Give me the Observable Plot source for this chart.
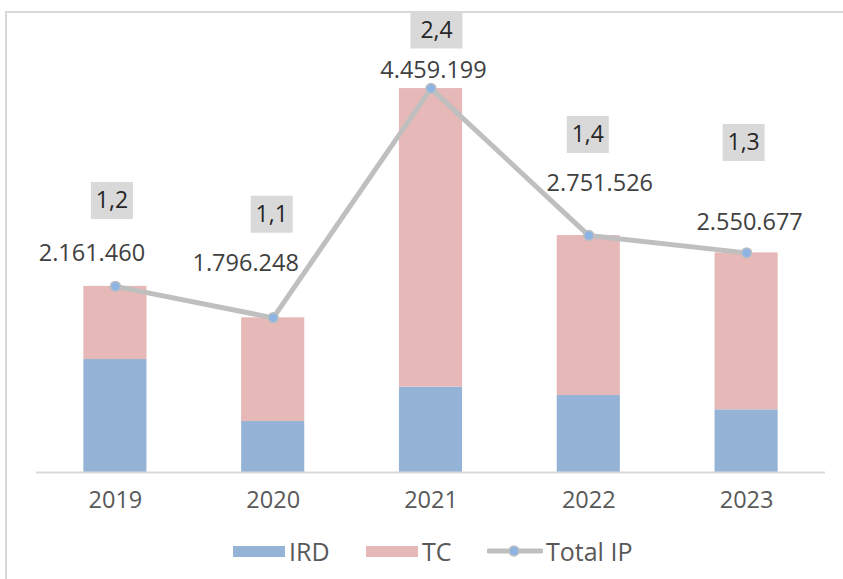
<!DOCTYPE html>
<html>
<head>
<meta charset="utf-8">
<script src="https://cdn.jsdelivr.net/npm/d3@7"></script>
<script src="https://cdn.jsdelivr.net/npm/@observablehq/plot@0.6"></script>
<style>
  html, body { margin: 0; padding: 0; background: #fff; }
  #wrap { position: relative; width: 843px; height: 579px; overflow: hidden; font-family: "Open Sans", Lato, sans-serif; }
  #frame { position: absolute; left: 5px; top: 11px; width: 900px; height: 700px; border-left: 2px solid #d9d9d9; border-top: 2px solid #d9d9d9; pointer-events: none; }
  #chart { position: absolute; left: 0; top: 0; }
  #legend { position: absolute; left: 0; top: 520px; width: 843px; height: 59px; }
  .item { position: absolute; top: 0; height: 62px; display: flex; align-items: center; font-size: 25px; color: #595959; }
  .sw { display: inline-block; width: 52px; height: 11px; margin-right: 4px; }
</style>
</head>
<body>
<div id="wrap">
  <div id="chart"></div>
  <div id="frame"></div>
  <div id="legend"></div>
</div>
<script>
// ---- data ----
const years = ["2019", "2020", "2021", "2022", "2023"];
const series = ["IRD", "TC"];
const ird = [1312000, 592000, 991000, 894000, 728000];
const tc = [849460, 1204248, 3468199, 1857526, 1822677];
const totalIP = [2161460, 1796248, 4459199, 2751526, 2550677];
const ratio = ["1,2", "1,1", "2,4", "1,4", "1,3"];
const legendNames = ["IRD", "TC", "Total IP"];

// ---- styles / layout ----
const colors = { IRD: "#95b3d7", TC: "#e6b8b7" };
const lineColor = "#bfbfbf";
const dotColor = "#8db4e2";
const FONT = "'Open Sans', Lato, sans-serif";
// label offsets (pixels) relative to the Total IP point
const valueOffsets = [[-23.5, -32.5], [-27.5, -54.5], [2.5, -18], [11, -52], [3, -30.5]];
const ratioOffsets = [[-3.5, -86], [-1.5, -103.5], [5.5, -58], [-1, -101], [-3, -110.5]];
const boxSizes = [[42, 37], [42, 37], [52, 36], [42, 37], [42, 37]];

const fmt = d3.formatLocale({ decimal: ",", thousands: ".", grouping: [3], currency: ["", ""] }).format(",d");

const stacked = [];
years.forEach((y, i) => {
  stacked.push({ year: y, series: "IRD", value: ird[i] });
  stacked.push({ year: y, series: "TC", value: tc[i] });
});
const totals = years.map((y, i) => ({ year: y, total: totalIP[i], label: fmt(totalIP[i]), ratio: ratio[i] }));

function rectSymbol(w, h) {
  return { draw(ctx) { ctx.moveTo(-w / 2, -h / 2); ctx.lineTo(w / 2, -h / 2); ctx.lineTo(w / 2, h / 2); ctx.lineTo(-w / 2, h / 2); ctx.closePath(); } };
}

const labelMarks = [];
totals.forEach((d, i) => {
  labelMarks.push(Plot.dot([d], { x: "year", y: "total", symbol: rectSymbol(...boxSizes[i]), r: 10, fill: "#d9d9d9", stroke: null, dx: ratioOffsets[i][0], dy: ratioOffsets[i][1] }));
  labelMarks.push(Plot.text([d], { x: "year", y: "total", text: "ratio", dx: ratioOffsets[i][0], dy: ratioOffsets[i][1], fontSize: 23, fill: "#262626", lineAnchor: "middle" }));
  labelMarks.push(Plot.text([d], { x: "year", y: "total", text: "label", dx: valueOffsets[i][0], dy: valueOffsets[i][1], fontSize: 23.5, fill: "#404040", lineAnchor: "middle" }));
});

const chart = Plot.plot({
  width: 843,
  height: 520,
  marginLeft: 36,
  marginRight: 18,
  marginTop: 41.5,
  marginBottom: 48,
  style: { fontFamily: FONT, fontSize: "23px", background: "transparent", overflow: "visible" },
  x: { type: "band", domain: years, paddingInner: 0.6, paddingOuter: 0.3, round: false, label: null },
  y: { domain: [0, 5000000], axis: null },
  color: { domain: series, range: series.map(s => colors[s]) },
  marks: [
    Plot.barY(stacked, { x: "year", y: "value", fill: "series", order: series }),
    Plot.ruleY([0], { stroke: "#d9d9d9", strokeWidth: 2 }),
    Plot.axisX({ tickSize: 0, tickPadding: 19, fontSize: 23.5, color: "#595959", label: null }),
    Plot.line(totals, { x: "year", y: "total", stroke: lineColor, strokeWidth: 5 }),
    Plot.dot(totals, { x: "year", y: "total", r: 5, fill: dotColor, stroke: lineColor, strokeWidth: 1.5 }),
    ...labelMarks
  ]
});
document.getElementById("chart").appendChild(chart);

// ---- legend ----
const legend = document.getElementById("legend");
const legendLeft = [233, 366, 487];
legendNames.forEach((name, i) => {
  const item = document.createElement("div");
  item.className = "item";
  item.style.left = legendLeft[i] + "px";
  if (i < 2) {
    const sw = document.createElement("span");
    sw.className = "sw";
    sw.style.background = colors[name];
    item.appendChild(sw);
  } else {
    const svg = d3.create("svg").attr("width", 56).attr("height", 14).style("margin-right", "3px");
    svg.append("line").attr("x1", 2).attr("x2", 54).attr("y1", 7).attr("y2", 7).attr("stroke", lineColor).attr("stroke-width", 5).attr("stroke-linecap", "round");
    svg.append("circle").attr("cx", 27).attr("cy", 7).attr("r", 5).attr("fill", dotColor).attr("stroke", lineColor).attr("stroke-width", 1.5);
    item.appendChild(svg.node());
  }
  const t = document.createElement("span");
  t.textContent = name;
  item.appendChild(t);
  legend.appendChild(item);
});
</script>
</body>
</html>
